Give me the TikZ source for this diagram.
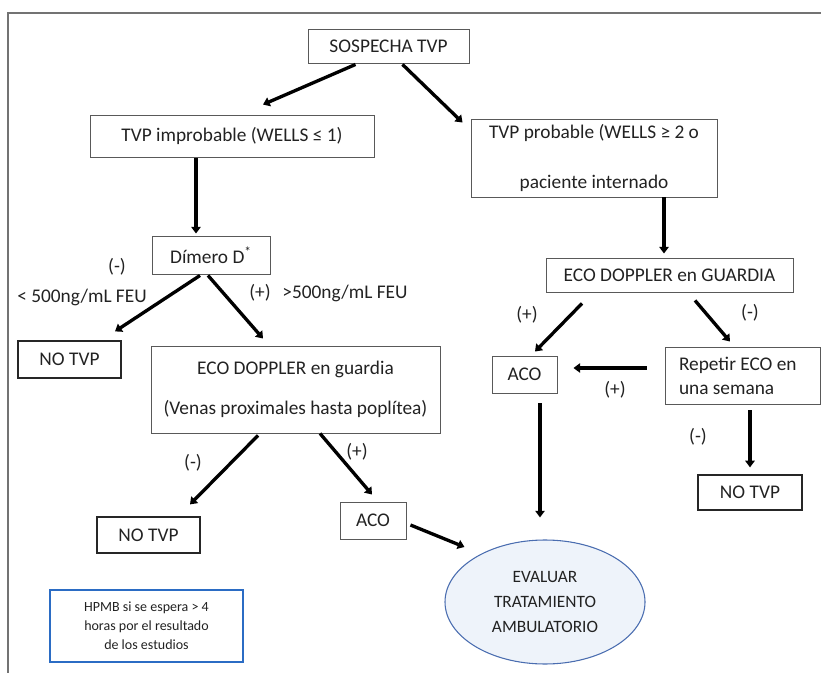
\documentclass[tikz,border=0pt]{standalone}
\usepackage{fontspec}
\setmainfont{Carlito}
\usetikzlibrary{arrows.meta,calc,shapes.geometric}
\newlength\pxu \setlength\pxu{0.75pt}
\definecolor{txtgray}{HTML}{222222}
\definecolor{ovalblue}{HTML}{4A6DB0}
\definecolor{ovalfill}{HTML}{EEF3FA}
\definecolor{notablue}{HTML}{2B6CC4}
\tikzset{box/.style={draw=black!65, line width=0.7pt, text=txtgray, inner sep=0pt, align=center},
sz/.style 2 args={minimum width=#1\pxu, minimum height=#2\pxu},
nobox/.style={draw=black!85, line width=0.9pt},
flecha/.style={-{Triangle[length=5pt,width=7pt]}, line width=2.5pt, black},
lbl/.style={text=txtgray, inner sep=0pt}}

\begin{document}
\begin{tikzpicture}[x=0.75pt,y=-0.75pt,font=\fontsize{14.5}{17}\selectfont]
\useasboundingbox (0,0) rectangle (821,673);
\draw[black!55, line width=1.2pt] (821,13) -- (8,13) -- (8,673);
% boxes
\node[box, sz={161}{34}] (sosp) at (388.5,46) {SOSPECHA TVP};
\node[box, sz={284}{42}] (improb) at (232,136) {TVP improbable (WELLS ≤ 1)};
\node[box, sz={246}{78}, font=\fontsize{14.5}{37.5}\selectfont] (prob) at (594,158) {TVP probable (WELLS ≥ 2 o\\paciente internado};
\node[box, sz={118}{38}] (dim) at (211,255) {Dímero D\textsuperscript{*}};
\node[box, sz={247}{34}] (ecog) at (669.5,275) {ECO DOPPLER en GUARDIA};
\node[box, nobox, sz={103}{37}] (notvpa) at (69.5,359.5) {NO TVP};
\node[box, sz={289}{87}, font=\fontsize{14.5}{30}\selectfont] (ecod) at (295.5,389.5) {ECO DOPPLER en guardia\\(Venas proximales hasta poplítea)};
\node[box, sz={65}{37}] (acoa) at (524.5,374.5) {ACO};
\node[box, sz={155}{57}, align=flush left, text width=127\pxu, font=\fontsize{14.5}{18}\selectfont] (rep) at (742.5,375.5) {Repetir ECO en\\una semana};
\node[box, nobox, sz={104}{35}] (notvpb) at (750,492.5) {NO TVP};
\node[box, nobox, sz={103}{36}] (notvpc) at (148.5,535) {NO TVP};
\node[box, sz={66}{37}] (acob) at (373,520.5) {ACO};
\node[ellipse, draw=ovalblue, fill=ovalfill, line width=0.8pt, sz={200}{124}, align=center, text=txtgray, inner sep=0pt, font=\fontsize{13}{18.5}\selectfont] (eval) at (545,602) {EVALUAR\\TRATAMIENTO\\AMBULATORIO};
\node[box, draw=notablue, line width=2.2pt, sz={193}{72}, font=\fontsize{10.5}{14.3}\selectfont] (hpmb) at (146.5,626) {HPMB si se espera > 4\\horas por el resultado\\de los estudios};
% labels
\node[lbl] (dneg) at (117,267) {(-)};
\node[lbl] (dnegv) at (82,297) {< 500ng/mL FEU};
\node[lbl] (dpos) at (260,293) {(+)};
\node[lbl] (dposv) at (345,293) {>500ng/mL FEU};
\node[lbl] (gpos) at (527,315) {(+)};
\node[lbl] (gneg) at (750,313) {(-)};
\node[lbl] (rpos) at (615,390) {(+)};
\node[lbl] (rneg) at (698,437) {(-)};
\node[lbl] (eneg) at (193,463) {(-)};
\node[lbl] (epos) at (357,452) {(+)};
% arrows
\draw[flecha] ($(sosp.south)+(-33,1)$) -- ($(improb.north)+(31,-10)$);
\draw[flecha] ($(sosp.south)+(14,1)$) -- ($(prob.north west)+(-8,4)$);
\draw[flecha] ($(improb.south)+(-36,1)$) -- ($(dim.north)+(-15,-2)$);
\draw[flecha] ($(prob.south)+(70,0)$) -- ($(ecog.north)+(-5.5,-4)$);
\draw[flecha] ($(dim.south)+(-11,1)$) -- ($(notvpa.north)+(45.5,-9)$);
\draw[flecha] ($(dim.south)+(-3,1)$) -- ($(ecod.north)+(-32.5,-7)$);
\draw[flecha] ($(ecog.south)+(-87.5,11)$) -- ($(acoa.north)+(10.5,-4)$);
\draw[flecha] ($(ecog.south)+(25.5,8)$) -- ($(rep.north)+(-12.5,-5)$);
\draw[flecha] ($(rep.west)+(-18,-7.5)$) -- ($(acoa.east)+(16,-6.5)$);
\draw[flecha] ($(rep.south)+(7.5,6)$) -- ($(notvpb.north)+(0,-7)$);
\draw[flecha] ($(ecod.south)+(-37.5,2)$) -- ($(notvpc.north)+(41.5,-12)$);
\draw[flecha] ($(ecod.south)+(24.5,0)$) -- ($(acob.north)+(-1,-7)$);
\draw[flecha] ($(acoa.south)+(15.5,10)$) -- ($(eval.north)+(-5,-22)$);
\draw[flecha] ($(acob.east)+(4,4.5)$) -- ($(eval.west)+(20,-55)$);
\end{tikzpicture}
\end{document}
